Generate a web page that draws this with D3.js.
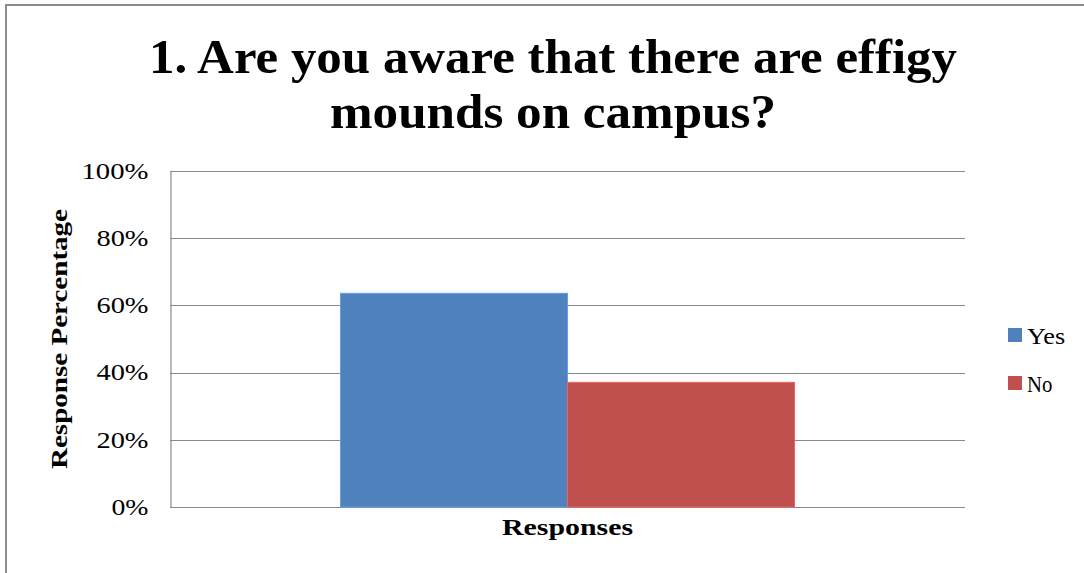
<!DOCTYPE html>
<html>
<head>
<meta charset="utf-8">
<script src="https://cdn.jsdelivr.net/npm/d3@7"></script>
<style>
  body { margin: 0; background: #fff; }
  svg text { font-family: "Liberation Serif", "DejaVu Serif", serif; }
</style>
</head>
<body>
<div id="chart"></div>
<script>
// data
var categories = ["Responses"];
var seriesNames = ["Yes", "No"];
var seriesValues = [63.6, 37.1];
var seriesColors = ["#4F81BD", "#C0504D"];
var yTicks = [0, 20, 40, 60, 80, 100];
var titleLines = ["1. Are you aware that there are effigy", "mounds on campus?"];

var W = 1084, H = 573;
var plot = {left: 170, right: 965, top: 171, bottom: 507};

var svg = d3.select("#chart").append("svg")
    .attr("width", W)
    .attr("height", H);

// outer frame (only top and left edges are visible in the shot)
svg.append("line").attr("x1", 6).attr("x2", W).attr("y1", 5).attr("y2", 5)
    .attr("stroke", "#8c8c8c").attr("stroke-width", 2);
svg.append("line").attr("x1", 6).attr("x2", 6).attr("y1", 4).attr("y2", H)
    .attr("stroke", "#8c8c8c").attr("stroke-width", 2);

var y = d3.scaleLinear().domain([0, 100]).range([plot.bottom, plot.top]);
// excel style gap width of 75%
var x0 = d3.scaleBand().domain(categories).range([plot.left, plot.right])
    .paddingInner(0).paddingOuter(0.3755);
var x1 = d3.scaleBand().domain(seriesNames).range([0, x0.bandwidth()]);

// gridlines
svg.append("g")
  .selectAll("line")
  .data(yTicks)
  .enter()
  .append("line")
    .attr("x1", plot.left)
    .attr("x2", plot.right)
    .attr("y1", function(d){ return Math.round(y(d)) + 0.5 })
    .attr("y2", function(d){ return Math.round(y(d)) + 0.5 })
    .attr("stroke", "#8a8a8a")
    .attr("stroke-width", 1.2);

// y axis
var yAxis = svg.append("g")
    .attr("transform", "translate(" + (plot.left + 0.5) + ",0)")
    .call(d3.axisLeft(y).tickValues(yTicks).tickSize(0).tickPadding(22)
        .tickFormat(function(d){ return d + "%" }));
yAxis.select(".domain").attr("stroke", "#8a8a8a").attr("stroke-width", 1.2);
yAxis.selectAll("text")
    .style("font-size", "23px")
    .attr("fill", "#000")
    .attr("textLength", function(d){ return String(d).length * 15 + 22 })
    .attr("lengthAdjust", "spacingAndGlyphs");

// bars
var groups = svg.append("g")
  .selectAll("g")
  .data(categories)
  .enter()
  .append("g")
    .attr("transform", function(d){ return "translate(" + x0(d) + ",0)" });

groups.selectAll("rect")
  .data(seriesNames.map(function(n, i){ return {name: n, value: seriesValues[i], color: seriesColors[i]} }))
  .enter()
  .append("rect")
    .attr("x", function(d){ return x1(d.name) })
    .attr("y", function(d){ return y(d.value) })
    .attr("width", x1.bandwidth())
    .attr("height", function(d){ return y(0) - y(d.value) })
    .attr("fill", function(d){ return d.color })
    .attr("stroke", function(d){ return d3.color(d.color).brighter(0.6) })
    .attr("stroke-width", 1);

// title
svg.append("g")
  .selectAll("text")
  .data(titleLines)
  .enter()
  .append("text")
    .attr("x", 553)
    .attr("y", function(d, i){ return 73 + i * 55 })
    .attr("text-anchor", "middle")
    .attr("textLength", function(d, i){ return i == 0 ? 808 : 446 })
    .attr("lengthAdjust", "spacingAndGlyphs")
    .style("font-size", "49px")
    .style("font-weight", "bold")
    .text(function(d){ return d });

// axis titles
svg.append("text")
    .attr("transform", "translate(67," + ((plot.top + plot.bottom) / 2) + ") rotate(-90)")
    .attr("text-anchor", "middle")
    .attr("textLength", 260)
    .attr("lengthAdjust", "spacingAndGlyphs")
    .style("font-size", "24px")
    .style("font-weight", "bold")
    .text("Response Percentage");

svg.append("text")
    .attr("x", x0(categories[0]) + x0.bandwidth() / 2)
    .attr("y", 535)
    .attr("text-anchor", "middle")
    .attr("textLength", 131)
    .attr("lengthAdjust", "spacingAndGlyphs")
    .style("font-size", "24px")
    .style("font-weight", "bold")
    .text(categories[0]);

// legend
var legend = svg.append("g")
  .selectAll("g")
  .data(seriesNames)
  .enter()
  .append("g")
    .attr("transform", function(d, i){ return "translate(1008," + (328 + i * 48) + ")" });
legend.append("rect")
    .attr("width", 14)
    .attr("height", 14)
    .attr("fill", function(d, i){ return seriesColors[i] });
legend.append("text")
    .attr("x", 19)
    .attr("y", 16)
    .style("font-size", "24px")
    .attr("textLength", function(d){ return d.length * 12.7 })
    .attr("lengthAdjust", "spacingAndGlyphs")
    .text(function(d){ return d });
</script>
</body>
</html>
